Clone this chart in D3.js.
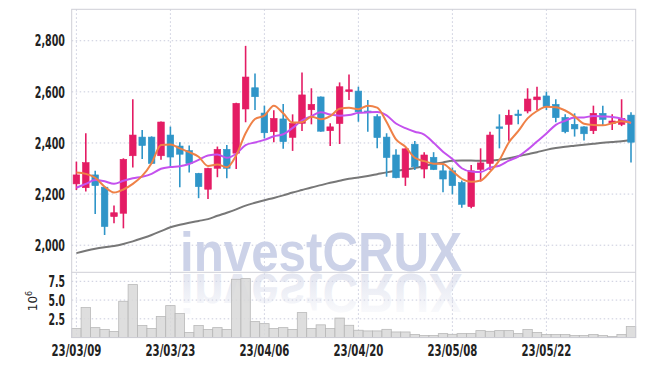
<!DOCTYPE html>
<html>
<head>
<meta charset="utf-8">
<script src="https://cdn.jsdelivr.net/npm/d3@7"></script>
<style>
  body { margin: 0; background: #fff; }
  svg { display: block; }
  .lbl { font-family: "DejaVu Sans", sans-serif; font-stretch: condensed; font-weight: bold; font-size: 16px; fill: #222; }
</style>
</head>
<body>
<div id="chart"></div>
<script>
// trading days (KRX)
const dates = [
  '2023-03-09','2023-03-10','2023-03-13','2023-03-14','2023-03-15','2023-03-16','2023-03-17','2023-03-20','2023-03-21','2023-03-22',
  '2023-03-23','2023-03-24','2023-03-27','2023-03-28','2023-03-29','2023-03-30','2023-03-31','2023-04-03','2023-04-04','2023-04-05',
  '2023-04-06','2023-04-07','2023-04-10','2023-04-11','2023-04-12','2023-04-13','2023-04-14','2023-04-17','2023-04-18','2023-04-19',
  '2023-04-20','2023-04-21','2023-04-24','2023-04-25','2023-04-26','2023-04-27','2023-04-28','2023-05-02','2023-05-03','2023-05-04',
  '2023-05-08','2023-05-09','2023-05-10','2023-05-11','2023-05-12','2023-05-15','2023-05-16','2023-05-17','2023-05-18','2023-05-19',
  '2023-05-22','2023-05-23','2023-05-24','2023-05-25','2023-05-26','2023-05-30','2023-05-31','2023-06-01','2023-06-02','2023-06-05'
]
const opens = [
  2240,2225,2275,2227,2112,2125,2350,2423,2423,2350,
  2431,2388,2370,2281,2219,2301,2375,2360,2533,2616,
  2517,2444,2494,2422,2477,2530,2580,2448,2476,2601,
  2603,2525,2503,2423,2353,2266,2395,2298,2344,2291,
  2291,2245,2151,2297,2320,2463,2473,2513,2525,2569,
  2584,2551,2500,2473,2463,2448,2516,2476,2473,2509
]
const highs = [
  2327,2438,2291,2230,2155,2340,2571,2451,2426,2484,
  2464,2403,2390,2283,2303,2386,2392,2557,2780,2672,
  2546,2528,2552,2512,2676,2614,2582,2477,2637,2668,
  2620,2568,2512,2438,2375,2379,2408,2364,2364,2320,
  2304,2253,2314,2379,2444,2512,2530,2530,2614,2620,
  2601,2571,2512,2516,2465,2546,2546,2512,2571,2520
]
const lows = [
  2216,2210,2122,2040,2086,2066,2304,2337,2318,2334,
  2302,2227,2284,2184,2181,2266,2262,2298,2481,2529,
  2418,2403,2377,2369,2447,2473,2444,2388,2396,2568,
  2483,2444,2379,2268,2262,2232,2294,2262,2294,2207,
  2199,2147,2145,2249,2294,2379,2409,2473,2516,2529,
  2529,2481,2438,2425,2410,2435,2468,2451,2466,2324
]
const closes = [
  2275,2323,2233,2073,2127,2336,2431,2390,2320,2482,
  2345,2356,2319,2229,2301,2375,2301,2555,2658,2581,
  2440,2496,2405,2477,2588,2551,2446,2463,2620,2608,
  2522,2518,2421,2343,2264,2377,2307,2353,2296,2259,
  2233,2160,2291,2322,2431,2460,2508,2507,2572,2580,
  2542,2499,2444,2455,2436,2516,2492,2486,2496,2403
]
// 거래량 (x10^6)
const volumes = [
  1.2,4.0,1.33,1.07,0.8,4.84,7.06,1.6,1.2,2.8,
  4.26,3.2,0.67,1.6,1.07,1.33,1.07,7.77,7.86,2.13,
  1.86,1.2,1.33,1.07,3.33,1.2,1.7,1.2,2.6,1.64,
  0.98,0.89,0.89,1.1,0.75,0.75,0.4,0.27,0.27,0.53,
  0.44,0.53,0.53,0.93,0.84,0.93,0.93,0.53,1.07,0.67,
  0.4,0.4,0.4,0.27,0.27,0.4,0.27,0.13,0.4,1.47
]
const ma5 = [
  2284,2279,2264,2229,2206,2218,2240,2271,2321,2392,
  2394,2379,2364,2346,2310,2316,2305,2352,2438,2494,
  2507,2546,2516,2480,2481,2503,2493,2505,2534,2538,
  2532,2546,2538,2482,2414,2385,2342,2329,2319,2318,
  2290,2260,2248,2253,2287,2333,2402,2446,2496,2525,
  2542,2540,2527,2504,2475,2470,2469,2477,2485,2479
]
const ma10 = [
  2225,2240,2255,2250,2240,2252,2262,2268,2279,2299,
  2306,2309,2318,2334,2351,2355,2342,2358,2392,2402,
  2412,2426,2434,2459,2488,2505,2520,2511,2507,2509,
  2518,2520,2521,2508,2476,2458,2444,2433,2401,2366,
  2337,2301,2288,2286,2303,2311,2331,2347,2374,2406,
  2437,2471,2487,2500,2500,2506,2504,2502,2495,2477
]
const ma60 = [
  1969,1978,1986,1992,1997,2005,2015,2027,2040,2055,
  2070,2080,2088,2095,2102,2115,2127,2140,2155,2166,
  2176,2185,2195,2206,2216,2226,2235,2244,2252,2260,
  2265,2271,2278,2285,2291,2296,2302,2310,2318,2324,
  2330,2331,2331,2330,2331,2334,2340,2348,2356,2364,
  2373,2380,2385,2389,2393,2397,2401,2404,2407,2412
]
const priceTicks = [2000,2200,2400,2600,2800]
const volTicks = [2.5,5.0,7.5]
const dateTicks = ['2023-03-09','2023-03-23','2023-04-06','2023-04-20','2023-05-08','2023-05-22']

// ---- layout ----
const W = 645, H = 366
const left = 71.7, right = 635.7
const pTop = 9.3, pBottom = 272.3, vBottom = 337.6

const svg = d3.select('#chart').append('svg')
  .attr('width', W).attr('height', H)

const x = d3.scaleBand().domain(dates).range([left, right]).padding(0)
const cx = d => x(d) + x.bandwidth() / 2
const y = d3.scaleLinear().domain([1894, 2923]).range([pBottom, pTop])
const yv = d3.scaleLinear().domain([0, 8.7]).range([vBottom, pBottom])

const grid = svg.append('g').attr('stroke', '#c9cbdc').attr('stroke-dasharray', '1.5,2.5').attr('stroke-width', 1)
grid.selectAll('line.h').data(priceTicks).join('line')
  .attr('x1', left).attr('x2', right).attr('y1', d => y(d)).attr('y2', d => y(d))
grid.selectAll('line.v').data(volTicks).join('line')
  .attr('x1', left).attr('x2', right).attr('y1', d => yv(d)).attr('y2', d => yv(d))
grid.selectAll('line.x').data(dateTicks).join('line')
  .attr('x1', cx).attr('x2', cx).attr('y1', pTop).attr('y2', vBottom)

// watermark + reflection
const defs = svg.append('defs')
const grad = defs.append('linearGradient').attr('id', 'fade').attr('x1', 0).attr('x2', 0).attr('y1', 0).attr('y2', 1)
grad.append('stop').attr('offset', '0%').attr('stop-color', '#d3d7e8').attr('stop-opacity', 0)
grad.append('stop').attr('offset', '100%').attr('stop-color', '#d3d7e8').attr('stop-opacity', 0.75)
const wm = svg.append('g')
wm.append('text').text('investCRUX')
  .attr('x', 180).attr('y', 271)
  .attr('textLength', 282).attr('lengthAdjust', 'spacingAndGlyphs')
  .style('font-family', 'Liberation Sans, Arial, sans-serif').style('font-weight', 'bold').style('font-size', '56px')
  .attr('fill', '#ccd2e8')
wm.append('text').text('investCRUX')
  .attr('x', 180).attr('y', -274)
  .attr('transform', 'scale(1,-1)')
  .attr('textLength', 282).attr('lengthAdjust', 'spacingAndGlyphs')
  .style('font-family', 'Liberation Sans, Arial, sans-serif').style('font-weight', 'bold').style('font-size', '56px')
  .attr('fill', 'url(#fade)')

// volume bars
svg.append('g').selectAll('rect').data(dates).join('rect')
  .attr('x', d => x(d)).attr('width', x.bandwidth())
  .attr('y', (d, i) => yv(volumes[i])).attr('height', (d, i) => vBottom - yv(volumes[i]))
  .attr('fill', '#d8d8d8').attr('fill-opacity', 0.85).attr('stroke', '#b8b8b8').attr('stroke-width', 0.8)

// moving averages
const line = arr => d3.line().x((d, i) => cx(dates[i])).y(d => y(d)).curve(d3.curveMonotoneX)(arr)
svg.append('path').attr('d', line(ma60)).attr('fill', 'none').attr('stroke', '#777').attr('stroke-width', 2)

// candles
const up = '#e41c64', down = '#2f95c8'
const bw = 6.6
const candle = svg.append('g').selectAll('g').data(dates).join('g')
  .attr('stroke', (d, i) => closes[i] >= opens[i] ? up : down)
  .attr('fill', (d, i) => closes[i] >= opens[i] ? up : down)
candle.append('line')
  .attr('x1', cx).attr('x2', cx)
  .attr('y1', (d, i) => y(highs[i])).attr('y2', (d, i) => y(lows[i]))
  .attr('stroke-width', 1.6)
candle.append('rect')
  .attr('x', d => cx(d) - bw / 2).attr('width', bw)
  .attr('y', (d, i) => y(Math.max(opens[i], closes[i])))
  .attr('height', (d, i) => Math.max(1.5, Math.abs(y(opens[i]) - y(closes[i]))))
  .attr('stroke-width', 0.6)

svg.append('path').attr('d', line(ma10)).attr('fill', 'none').attr('stroke', '#c451ee').attr('stroke-width', 2)
svg.append('path').attr('d', line(ma5)).attr('fill', 'none').attr('stroke', '#ef8147').attr('stroke-width', 2)

// frame
const frame = svg.append('g').attr('stroke', '#cfcfd6').attr('fill', 'none')
frame.append('rect').attr('x', left).attr('y', pTop).attr('width', right - left).attr('height', vBottom - pTop)
frame.append('line').attr('x1', left).attr('x2', right).attr('y1', pBottom).attr('y2', pBottom)

// axis labels (narrow look: squeeze glyph widths)
const narrow = s => s.split('').reduce((w, c) => w + (/[0-9]/.test(c) ? 6.8 : c === '/' ? 4.5 : 3), 0)
const fmt = d3.format(',')
svg.append('g').selectAll('text').data(priceTicks).join('text')
  .attr('class', 'lbl').attr('x', 65).attr('y', d => y(d)).attr('dy', '0.36em')
  .attr('text-anchor', 'end').text(fmt)
  .attr('textLength', d => narrow(fmt(d))).attr('lengthAdjust', 'spacingAndGlyphs')
svg.append('g').selectAll('text').data(volTicks).join('text')
  .attr('class', 'lbl').attr('x', 65).attr('y', d => yv(d)).attr('dy', '0.36em')
  .attr('text-anchor', 'end').text(d3.format('.1f'))
  .attr('textLength', d => narrow(d3.format('.1f')(d))).attr('lengthAdjust', 'spacingAndGlyphs')
const dfmt = d => d3.timeFormat('%y/%m/%d')(d3.timeParse('%Y-%m-%d')(d))
svg.append('g').selectAll('text').data(dateTicks).join('text')
  .attr('class', 'lbl').attr('x', cx).attr('y', 355.5)
  .attr('text-anchor', 'middle').text(dfmt)
  .attr('textLength', d => narrow(dfmt(d))).attr('lengthAdjust', 'spacingAndGlyphs')

const unit = svg.append('text').attr('transform', 'translate(37,301) rotate(-90)')
  .attr('text-anchor', 'middle')
  .style('font-family', 'DejaVu Sans, sans-serif').style('font-size', '12px').attr('fill', '#222')
unit.append('tspan').text('10')
unit.append('tspan').text('6').attr('dy', -5).style('font-size', '8px')
</script>
</body>
</html>
